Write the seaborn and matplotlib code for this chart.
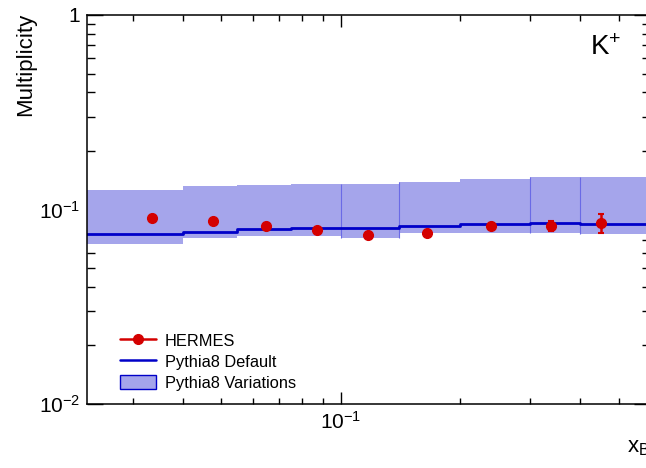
import numpy as np
import matplotlib
matplotlib.use("Agg")
import matplotlib.pyplot as plt
import seaborn as sns
from matplotlib.ticker import FuncFormatter, NullFormatter, LogLocator
from matplotlib.patches import Patch
from matplotlib.lines import Line2D

# HERMES x_B binning
bin_edges = [0.023, 0.04, 0.055, 0.075, 0.1, 0.14, 0.2, 0.3, 0.4, 0.6]

# HERMES K+ multiplicities
hermes_x = [0.0335, 0.0476, 0.0648, 0.0870, 0.1173, 0.1651, 0.2390, 0.339, 0.451]
hermes_y = [0.0907, 0.0873, 0.0823, 0.0782, 0.0742, 0.0760, 0.0823, 0.0826, 0.0850]
hermes_err = [0.0030, 0.0025, 0.0025, 0.0020, 0.0020, 0.0020, 0.0025, 0.0050, 0.0095]

# Pythia8 default and variation envelope per bin
pythia_default = [0.0748, 0.0769, 0.0796, 0.0806, 0.0803, 0.0826, 0.0842, 0.0850, 0.0839]
var_low = [0.0667, 0.0714, 0.0731, 0.0731, 0.0716, 0.0760, 0.0760, 0.0760, 0.0751]
var_high = [0.1260, 0.1326, 0.1341, 0.1352, 0.1352, 0.1385, 0.1435, 0.1469, 0.1469]

sns.set_style("ticks")
plt.rcParams["font.family"] = ["Liberation Sans", "DejaVu Sans"]
plt.rcParams["mathtext.fontset"] = "custom"
plt.rcParams["mathtext.rm"] = "Liberation Sans"
plt.rcParams["mathtext.it"] = "Liberation Sans:italic"
for key in ["text.color", "axes.labelcolor", "xtick.color", "ytick.color",
            "xtick.labelcolor", "ytick.labelcolor"]:
    plt.rcParams[key] = "black"

red = "#d40000"
blue = "#0000c8"
band = "#a5a5eb"

fig = plt.figure(figsize=(6.46, 4.68), dpi=100)
ax = fig.add_axes([87 / 646, 64 / 468, 563 / 646, 389 / 468])

# variation band as per-bin boxes
edges = np.array(bin_edges)
lo = np.array(var_low)
hi = np.array(var_high)
ax.bar(edges[:-1], hi - lo, bottom=lo, width=np.diff(edges), align="edge",
       color=band, edgecolor="none", linewidth=0, zorder=1)
ax.vlines([bin_edges[4], bin_edges[5], bin_edges[7], bin_edges[8]],
          [min(lo[3], lo[4]), min(lo[4], lo[5]), min(lo[6], lo[7]), min(lo[7], lo[8])],
          [max(hi[3], hi[4]), max(hi[4], hi[5]), max(hi[6], hi[7]), max(hi[7], hi[8])],
          color="#6a6ae6", lw=0.8, zorder=1.5)

# default Pythia8 as step line
sns.lineplot(x=bin_edges, y=pythia_default + [pythia_default[-1]], ax=ax,
             drawstyle="steps-post", color=blue, lw=2, zorder=2, estimator=None,
             sort=False)

# HERMES points
ax.errorbar(hermes_x, hermes_y, yerr=hermes_err, fmt="o", color=red, ms=7,
            elinewidth=1.8, capsize=2.5, capthick=1.5, zorder=3)

ax.set_xscale("log")
ax.set_yscale("log")
ax.set_xlim(0.023, 0.6)
ax.set_ylim(0.01, 1)

ax.yaxis.set_major_locator(LogLocator(base=10, numticks=10))
ax.yaxis.set_minor_locator(LogLocator(base=10, subs=np.arange(2, 10), numticks=20))
ax.xaxis.set_major_locator(LogLocator(base=10, numticks=10))
ax.xaxis.set_minor_locator(LogLocator(base=10, subs=np.arange(2, 10), numticks=20))


def log_label(v, pos):
    if abs(v - 1) < 1e-9:
        return "1"
    e = int(round(np.log10(v)))
    return r"$\mathregular{10^{%d}}$" % e


ax.xaxis.set_major_formatter(FuncFormatter(log_label))
ax.yaxis.set_major_formatter(FuncFormatter(log_label))
ax.xaxis.set_minor_formatter(NullFormatter())
ax.yaxis.set_minor_formatter(NullFormatter())

ax.tick_params(axis="both", which="both", direction="in", top=True, right=True,
               labelsize=15, color="black", labelcolor="black")
ax.tick_params(axis="y", which="major", length=11.5, width=1, pad=5)
ax.tick_params(axis="y", which="minor", length=5.8, width=1)
ax.tick_params(axis="x", which="major", length=8.6, width=1, pad=5)
ax.tick_params(axis="x", which="minor", length=4.3, width=1)
for sp in ax.spines.values():
    sp.set_linewidth(1.1)
    sp.set_color("black")

ax.set_ylabel("Multiplicity", fontsize=16, loc="top")
ax.yaxis.set_label_coords(-0.09, 1.005)
ax.set_xlabel(r"$\mathregular{x_{B}}$", fontsize=16, loc="right")
ax.xaxis.set_label_coords(1.0, -0.085)

ax.text(0.894, 0.915, r"$\mathregular{K^{+}}$", transform=ax.transAxes,
        fontsize=20, ha="left", va="center")

handles = [
    Line2D([], [], color=red, marker="o", ms=7, lw=1.8),
    Line2D([], [], color=blue, lw=1.8),
    Patch(facecolor=band, edgecolor=blue, linewidth=1),
]
labels = ["HERMES", "Pythia8 Default", "Pythia8 Variations"]
ax.legend(handles, labels, loc="lower left", bbox_to_anchor=(0.038, 0.005),
          frameon=False, fontsize=11.8, handlelength=2.2, handleheight=1.0,
          labelspacing=0.3, handletextpad=0.55, borderaxespad=0.3)

fig.savefig("out.png", dpi=100)
